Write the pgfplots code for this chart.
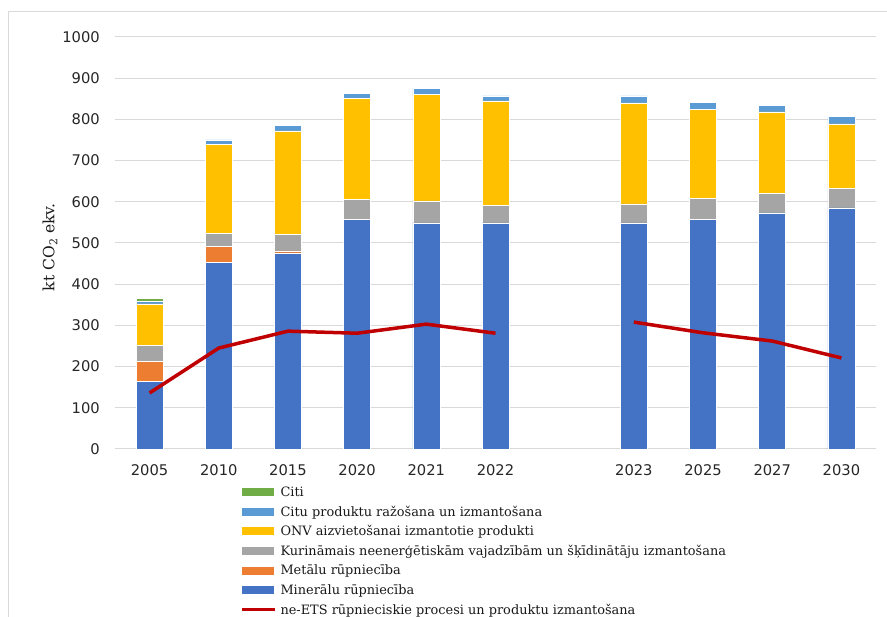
\documentclass[border=0pt]{standalone}
\usepackage{fontspec}
\setmainfont{DejaVu Serif}
\newfontfamily\ticksans{DejaVu Sans}
\usepackage{pgfplots}
\usepackage{pgfplotstable}
\pgfplotsset{compat=1.18}

\definecolor{cMin}{HTML}{4472C4}
\definecolor{cMet}{HTML}{ED7D31}
\definecolor{cKur}{HTML}{A5A5A5}
\definecolor{cOnv}{HTML}{FFC000}
\definecolor{cCitu}{HTML}{5B9BD5}
\definecolor{cCiti}{HTML}{70AD47}
\definecolor{cLine}{HTML}{C00000}
\definecolor{cGrid}{HTML}{D9D9D9}

% x: 0..5 = 2005..2022, 6 = gap, 7..10 = 2023..2030
\pgfplotstableread{
x mineral metal fuel onv other citi
0 165 48 39 100 7 7
1 452 39 33 216 10 0
2 476 5 39 252 14 0
3 558 0 47 245 14 0
4 549 0 53 258 16 0
5 549 0 43 253 12 0
7 549 0 46 245 17 0
8 558 0 51 216 17 0
9 573 0 48 197 15 0
10 585 0 48 156 19 0
}\bars

\pgfplotstableread{
x val
0 136
1 245
2 286
3 281
4 303
5 281
6 nan
7 308
8 282
9 262
10 221
}\neets

\pgfplotsset{
  swatch/.style={legend image code/.code={\fill[##1] (0pt,-4.5pt) rectangle (33pt,4.5pt);}},
  redline/.style={legend image code/.code={\draw[##1] (0pt,0pt) -- (33pt,0pt);}},
  frame/.style={at={(115pt,168pt)}, anchor=south west, scale only axis,
    width=761pt, height=412pt, xmin=-0.5, xmax=10.5, ymin=0, ymax=1000},
}

\begin{document}
\begin{tikzpicture}
\useasboundingbox (0,0) rectangle (887pt,617pt);
\draw[cGrid, line width=1pt] (8pt,0pt) -- (8pt,605pt) -- (887pt,605pt);

\begin{axis}[frame,
  ybar stacked, bar width=27pt,
  axis line style={draw=none},
  major tick length=0pt,
  ymajorgrids, grid style={cGrid, line width=1pt},
  ytick={0,100,...,1000},
  xtick={0,1,2,3,4,5,7,8,9,10},
  xticklabels={2005,2010,2015,2020,2021,2022,2023,2025,2027,2030},
  /pgf/number format/assume math mode=true,
  /pgf/number format/1000 sep={},
  tick label style={font=\ticksans\fontsize{14.7}{16}\selectfont, text=black!85, inner sep=0pt},
  xticklabel style={yshift=-15pt},
  yticklabel style={xshift=-15pt},
  ylabel={kt CO\textsubscript{2} ekv.},
  every axis y label/.style={at={(axis description cs:-0.0854,0.49)}, rotate=90, anchor=center,
    font=\fontsize{15.5}{17}\selectfont, text=black!90},
  legend style={at={(axis description cs:0.164,-0.080)}, anchor=north west,
    draw=none, fill=none, inner sep=0pt, row sep=0pt, column sep=4pt,
    font=\fontsize{12.9}{15}\selectfont, text=black!90,
    nodes={inner sep=0pt, text height=14.3pt, text depth=5.3pt}},
  legend cell align=left,
  every axis plot/.append style={draw=white, line width=0.6pt},
]
\addplot[fill=cMin, forget plot] table[x=x, y=mineral] {\bars};
\addplot[fill=cMet, forget plot] table[x=x, y=metal] {\bars};
\addplot[fill=cKur, forget plot] table[x=x, y=fuel] {\bars};
\addplot[fill=cOnv, forget plot] table[x=x, y=onv] {\bars};
\addplot[fill=cCitu, forget plot] table[x=x, y=other] {\bars};
\addplot[fill=cCiti, forget plot] table[x=x, y=citi] {\bars};

\addlegendimage{swatch, fill=cCiti}
\addlegendentry{Citi}
\addlegendimage{swatch, fill=cCitu}
\addlegendentry{Citu produktu ražošana un izmantošana}
\addlegendimage{swatch, fill=cOnv}
\addlegendentry{ONV aizvietošanai izmantotie produkti}
\addlegendimage{swatch, fill=cKur}
\addlegendentry{Kurināmais neenerģētiskām vajadzībām un šķīdinātāju izmantošana}
\addlegendimage{swatch, fill=cMet}
\addlegendentry{Metālu rūpniecība}
\addlegendimage{swatch, fill=cMin}
\addlegendentry{Minerālu rūpniecība}
\addlegendimage{redline, draw=cLine, line width=3.5pt}
\addlegendentry{ne-ETS rūpnieciskie procesi un produktu izmantošana}
\end{axis}

\begin{axis}[frame, hide axis, unbounded coords=jump]
\addplot[cLine, line width=3.5pt, no marks] table[x=x, y=val] {\neets};
\end{axis}
\end{tikzpicture}
\end{document}
